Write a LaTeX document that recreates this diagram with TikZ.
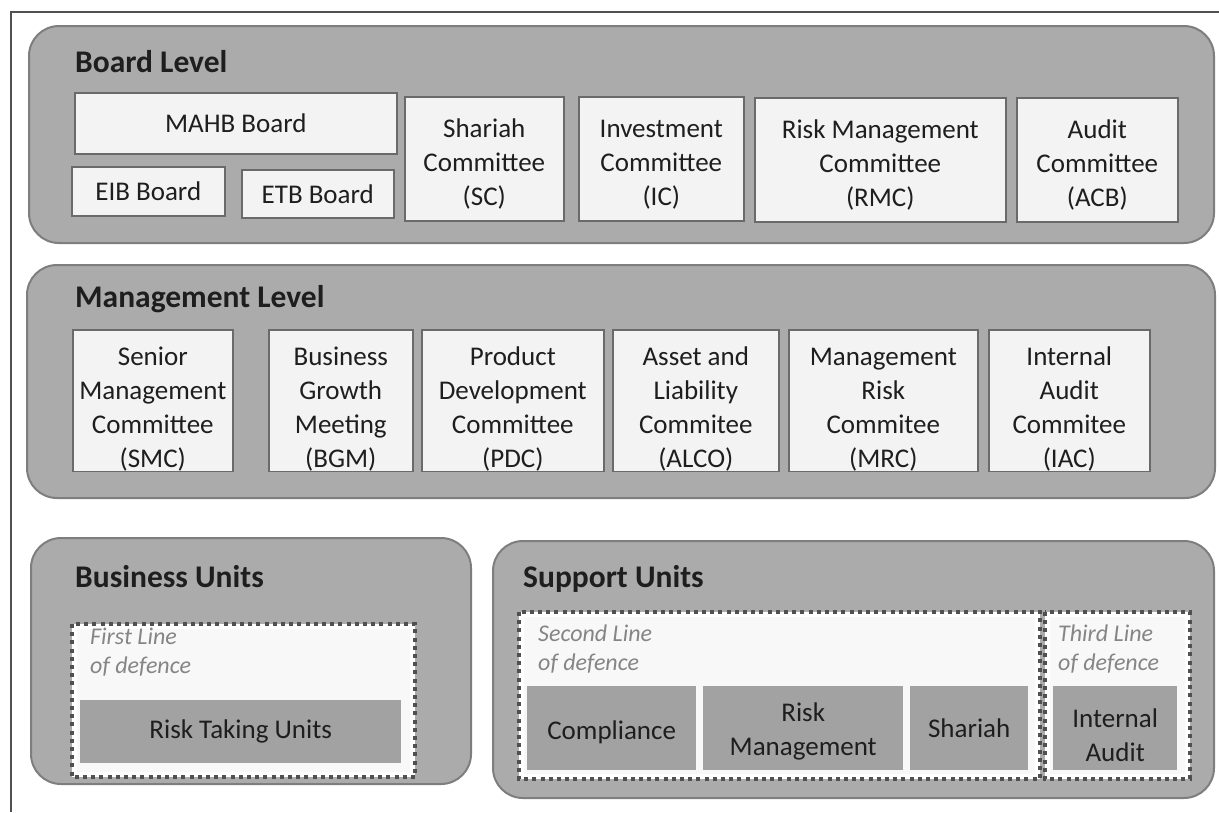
\documentclass[tikz,border=0pt]{standalone}
\usepackage{fontspec}
\setmainfont{Carlito}
\definecolor{panelfill}{HTML}{ABABAB}
\definecolor{paneldraw}{HTML}{7E7E7E}
\definecolor{boxfill}{HTML}{F3F3F3}
\definecolor{boxdraw}{HTML}{6A6A6A}
\definecolor{unitfill}{HTML}{A2A2A2}
\definecolor{txt}{HTML}{1E1E1E}
\definecolor{ital}{HTML}{858585}
\definecolor{dotc}{HTML}{505050}
\newcommand\dnstrut[1]{\rule{0pt}{#1pt}}
\tikzset{
  x=1pt, y=-1pt,
  panel/.style={draw=paneldraw, line width=2pt, fill=panelfill, rounded corners=30pt, anchor=north west, inner sep=0pt},
  ptitle/.style={anchor=west, inner sep=0pt, text=txt, font=\fontsize{31.5}{36}\selectfont\bfseries},
  wbox/.style={draw=boxdraw, line width=1.6pt, fill=boxfill, anchor=north west, inner sep=0pt, align=center, text=txt, font=\fontsize{27}{34}\selectfont},
  gbox/.style={fill=unitfill, anchor=north west, inner sep=0pt, align=center, text=txt, font=\fontsize{27}{34}\selectfont},
  dotbox/.style={fill=boxfill!60!white, draw=white, line width=5pt, anchor=north west, inner sep=0pt},
  dotline/.style={draw=dotc, line width=4pt, dash pattern=on 4pt off 4.2pt},
  itallabel/.style={anchor=north west, inner sep=0pt, align=left, text=ital, font=\fontsize{24}{29}\selectfont\itshape}
}
\begin{document}
\begin{tikzpicture}
\useasboundingbox (0,0) rectangle (1219,812);
\fill[white] (0,0) rectangle (1219,812);
% frame
\coordinate (ftr) at (1219,12);
\coordinate (ftl) at (11,12);
\coordinate (fbl) at (11,812);
\draw[line width=1.5pt, draw=dotc] (ftr) -- (ftl) -- (fbl);

% Board level
\node[panel, minimum width=1185pt, minimum height=217pt] (pboard) at (28,25) {};
\node[ptitle] (tboard) at (75,62) {Board Level};
\node[wbox, minimum width=322pt, minimum height=61pt] (mahb) at (74,92) {MAHB Board};
\node[wbox, minimum width=153pt, minimum height=49pt] (eib) at (71,166) {EIB Board};
\node[wbox, minimum width=152pt, minimum height=48pt] (etb) at (241,169) {ETB Board};
\node[wbox, minimum width=159pt, minimum height=124pt] (sc) at (404,96) {\dnstrut{30}Shariah\\Committee\\(SC)};
\node[wbox, minimum width=165pt, minimum height=124pt] (ic) at (578,96) {\dnstrut{30}Investment\\Committee\\(IC)};
\node[wbox, minimum width=251pt, minimum height=124pt] (rmc) at (754,97) {\dnstrut{30}Risk Management\\Committee\\(RMC)};
\node[wbox, minimum width=161pt, minimum height=124pt] (acb) at (1016,97) {\dnstrut{30}Audit\\Committee\\(ACB)};

% Management level
\node[panel, minimum width=1188pt, minimum height=233pt] (pmgmt) at (26,264) {};
\node[ptitle] (tmgmt) at (75,299) {Management Level};
\node[wbox, minimum width=160pt, minimum height=141pt] (smc) at (72,329) {\dnstrut{36}Senior\\Management\\Committee\\(SMC)};
\node[wbox, minimum width=144pt, minimum height=141pt] (bgm) at (268,329) {\dnstrut{36}Business\\Growth\\Meeting\\(BGM)};
\node[wbox, minimum width=182pt, minimum height=141pt] (pdc) at (421,329) {\dnstrut{36}Product\\Development\\Committee\\(PDC)};
\node[wbox, minimum width=166pt, minimum height=141pt] (alco) at (612,329) {\dnstrut{36}Asset and\\Liability\\Commitee\\(ALCO)};
\node[wbox, minimum width=189pt, minimum height=141pt] (mrc) at (788,329) {\dnstrut{36}Management\\Risk\\Commitee\\(MRC)};
\node[wbox, minimum width=161pt, minimum height=141pt] (iac) at (988,329) {\dnstrut{36}Internal\\Audit\\Commitee\\(IAC)};

% Business units
\node[panel, minimum width=440pt, minimum height=246pt] (pbus) at (30,537) {};
\node[ptitle] (tbus) at (75,577) {Business Units};
\node[dotbox, minimum width=338pt, minimum height=148pt] (line1) at (72,624) {};
\draw[dotline] (line1.north west) rectangle (line1.south east);
\node[itallabel] (l1lab) at (90,628) {First Line\\of defence};
\node[gbox, minimum width=321pt, minimum height=63pt] (rtu) at (80,700) {Risk Taking Units};

% Support units
\node[panel, minimum width=721pt, minimum height=257pt] (psup) at (492,540) {};
\node[ptitle] (tsup) at (523,579) {Support Units};
\node[dotbox, minimum width=516pt, minimum height=162pt] (line2) at (519,612) {};
\draw[dotline] (line2.north west) rectangle (line2.south east);
\node[dotbox, minimum width=140pt, minimum height=162pt] (line3) at (1045,612) {};
\draw[dotline] (line3.north west) rectangle (line3.south east);
\node[itallabel] (l2lab) at (538,625) {Second Line\\of defence};
\node[itallabel] (l3lab) at (1058,625) {Third Line\\of defence};
\node[gbox, minimum width=169pt, minimum height=84pt] (comp) at (527,686) {\dnstrut{27}Compliance};
\node[gbox, minimum width=200pt, minimum height=84pt] (riskm) at (703,686) {\dnstrut{26}Risk\\Management};
\node[gbox, minimum width=118pt, minimum height=84pt] (shar) at (910,686) {Shariah};
\node[gbox, minimum width=124pt, minimum height=84pt] (ia) at (1053,686) {\dnstrut{33}Internal\\Audit};
\end{tikzpicture}
\end{document}
